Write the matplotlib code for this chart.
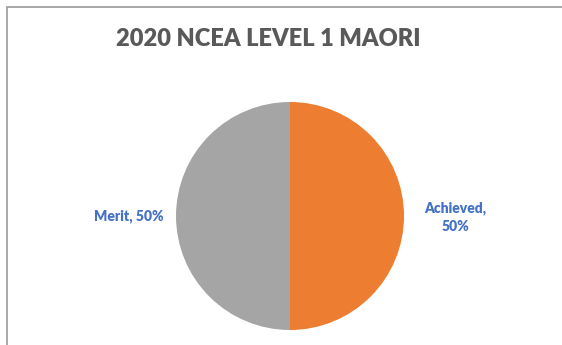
import matplotlib.pyplot as plt
from matplotlib.patches import Rectangle

title = "2020 NCEA LEVEL 1 MAORI"
grades = ["Achieved", "Merit"]
shares = [50, 50]
colours = ["#ED7D31", "#A5A5A5"]

W, H = 562, 345
fig = plt.figure(figsize=(W / 100, H / 100), dpi=100)
ax = fig.add_axes([0, 0, 1, 1])

# pie in pixel-like data coordinates (y up)
cx, cy, r = 290, H - 216, 114
ax.pie(shares, colors=colours, startangle=90, counterclock=False,
       center=(cx, cy), radius=r, wedgeprops=dict(linewidth=0))

# chart frame, only top and left edges visible
ax.add_patch(Rectangle((7, -10), W + 10, H - 7 + 10, fill=False,
                       edgecolor="#9a9a9a", linewidth=1.2))

ax.set_xlim(0, W)
ax.set_ylim(0, H)
ax.set_aspect("equal")
ax.axis("off")

lab_kw = dict(color="#4472C4", fontsize=10, fontweight="heavy",
              family="Lato", ha="center", va="center")
ax.text(cx - 161, H - 216, f"{grades[1]}, {shares[1] / sum(shares):.0%}", **lab_kw)
ax.text(cx + 165, H - 217, f"{grades[0]},\n{shares[0] / sum(shares):.0%}",
        linespacing=1.5, **lab_kw)

ax.text(268, H - 39, title, color="#595959", fontsize=17, fontweight="heavy",
        family="Lato", ha="center", va="center")

fig.savefig("out.png", dpi=100)
